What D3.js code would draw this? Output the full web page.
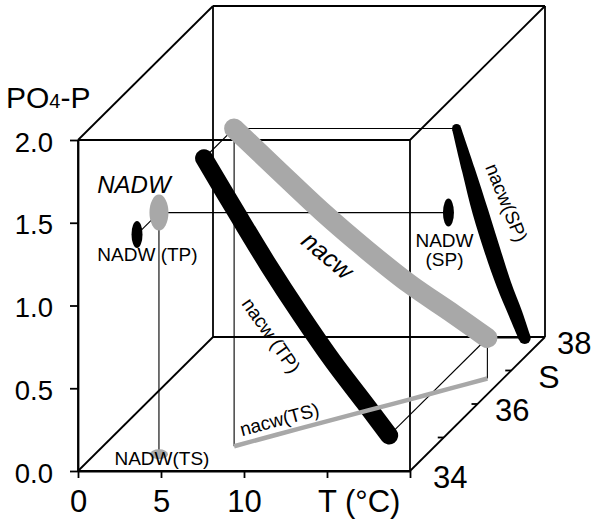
<!DOCTYPE html>
<html>
<head>
<meta charset="utf-8">
<script src="https://cdn.jsdelivr.net/npm/d3@7"></script>
<style>
  body { margin: 0; background: #fff; }
  svg { display: block; }
  text { font-family: "Liberation Sans", Arial, Helvetica, sans-serif; fill: #000; }
</style>
</head>
<body>
<svg id="chart" width="592" height="522"></svg>
<script>
// nacw mixing line in (temperature, salinity, phosphate) space
const nacwT = [7.9, 9.8, 11.8, 13.75, 15.65, 17.55, 19.05];
const nacwS = [34.74, 35.09, 35.45, 35.8, 36.14, 36.49, 36.76];
const nacwP = [1.92, 1.6, 1.27, 0.97, 0.695, 0.445, 0.245];

// NADW end member
const nadwT = [3.86];
const nadwS = [34.5];
const nadwP = [1.46];

// planes receiving the two-property projections
const planeTP_S = 33.85;   // T–P projection
const planeSP_T = 21.3;    // S–P projection
const planeTS_P = 0;       // T–S projection

// axes
const tTicks = [0, 5, 10, 15, 20];
const tLabels = ["0", "5", "10", "", ""];
const pTicks = [0, 0.5, 1, 1.5, 2];
const sTicks = [35, 36, 37];
const sLabels = [34, 36, 38];

const svg = d3.select("#chart");

// oblique projection of the (T, S, P) cube
const x = d3.scaleLinear().domain([0, 20]).range([78, 410]);
const y = d3.scaleLinear().domain([0, 2]).range([471, 140]);
const depth = d3.scaleLinear().domain([34, 38]).range([0, 1]);
const DX = 135, DY = -134;
const proj = (T, S, P) => [x(T) + DX * depth(S), y(P) + DY * depth(S)];

const GRAY = "#a8a8a8";
const boxG = svg.append("g").attr("fill", "none").attr("stroke", "#000").attr("stroke-width", 1.8);

// cube edges
const Tr = [0, 20], Sr = [34, 38], Pr = [0, 2];
const edges = [];
Sr.forEach(S => {
  edges.push([[0, S, 0], [20, S, 0]], [[0, S, 2], [20, S, 2]], [[0, S, 0], [0, S, 2]], [[20, S, 0], [20, S, 2]]);
});
Tr.forEach(T => Pr.forEach(P => edges.push([[T, 34, P], [T, 38, P]])));
boxG.selectAll("line.edge").data(edges).join("line").attr("class", "edge")
  .attr("x1", d => proj(...d[0])[0]).attr("y1", d => proj(...d[0])[1])
  .attr("x2", d => proj(...d[1])[0]).attr("y2", d => proj(...d[1])[1]);

// drop lines from 3-D points to their projections
const anchors = [
  [nacwT[0], nacwS[0], nacwP[0]],
  [nacwT[nacwT.length - 1], nacwS[nacwS.length - 1], nacwP[nacwP.length - 1]],
  [nadwT[0], nadwS[0], nadwP[0]]
];
const drops = [];
anchors.forEach(([T, S, P]) => {
  drops.push([[T, S, P], [T, planeTP_S, P]]);
  drops.push([[T, S, P], [planeSP_T, S, P]]);
  drops.push([[T, S, P], [T, S, planeTS_P]]);
});
svg.append("g").attr("stroke", "#000").attr("stroke-width", 1.1)
  .selectAll("line").data(drops).join("line")
  .attr("x1", d => proj(...d[0])[0]).attr("y1", d => proj(...d[0])[1])
  .attr("x2", d => proj(...d[1])[0]).attr("y2", d => proj(...d[1])[1]);

// axes
const yAxis = d3.axisLeft(y).tickValues(pTicks).tickFormat(d3.format(".1f"))
  .tickSize(8).tickSizeOuter(0).tickPadding(17);
const gy = svg.append("g").attr("transform", "translate(78,0)").call(yAxis);
gy.selectAll("text").attr("font-size", 27.5).attr("dy", "0.4em");

const xAxis = d3.axisBottom(x).tickValues(tTicks).tickFormat((d, i) => tLabels[i])
  .tickSize(7).tickSizeOuter(0).tickPadding(12);
const gx = svg.append("g").attr("transform", "translate(0,471)").call(xAxis);
gx.selectAll("text").attr("font-size", 31);

[gx, gy].forEach(g => {
  g.selectAll("path, line").attr("stroke", "#000").attr("stroke-width", 1.8);
  g.selectAll("text").attr("font-family", "Liberation Sans, Arial, sans-serif").attr("fill", "#000");
});

// salinity axis along the lower right edge
svg.append("g").attr("stroke", "#000").attr("stroke-width", 1.8)
  .selectAll("line").data(sTicks).join("line")
  .attr("x1", d => proj(20, d, 0)[0] - 6).attr("y1", d => proj(20, d, 0)[1])
  .attr("x2", d => proj(20, d, 0)[0]).attr("y2", d => proj(20, d, 0)[1]);
svg.append("g").selectAll("text").data(sLabels).join("text")
  .attr("x", d => proj(20, d, 0)[0] + 23 - 11 * depth(d))
  .attr("y", d => proj(20, d, 0)[1] + 17)
  .attr("font-size", 31).text(d => d);

const line = d3.line().curve(d3.curveCatmullRom.alpha(0.5));
const idx = d3.range(nacwT.length);

// T–P projection
svg.append("path")
  .attr("d", line(idx.map(i => proj(nacwT[i], planeTP_S, nacwP[i]))))
  .attr("fill", "none").attr("stroke", "#000").attr("stroke-width", 18).attr("stroke-linecap", "round");

// T–S projection
svg.append("path")
  .attr("d", line(idx.map(i => proj(nacwT[i], nacwS[i], planeTS_P))))
  .attr("fill", "none").attr("stroke", GRAY).attr("stroke-width", 4.5);

// nacw in 3-D
svg.append("path")
  .attr("d", line(idx.map(i => proj(nacwT[i], nacwS[i], nacwP[i]))))
  .attr("fill", "none").attr("stroke", GRAY).attr("stroke-width", 20).attr("stroke-linecap", "round");

// S–P projection, drawn as a ribbon that swells toward the middle
const spPts = idx.map(i => proj(planeSP_T, nacwS[i], nacwP[i]));
const spWidth = [9, 13, 16, 16, 15, 14, 12];
const left = [], right = [];
spPts.forEach((p, i) => {
  const a = spPts[Math.max(0, i - 1)], b = spPts[Math.min(spPts.length - 1, i + 1)];
  const dx = b[0] - a[0], dy = b[1] - a[1], len = Math.hypot(dx, dy);
  const nx = -dy / len, ny = dx / len, h = spWidth[i] / 2;
  left.push([p[0] + nx * h, p[1] + ny * h]);
  right.push([p[0] - nx * h, p[1] - ny * h]);
});
const spG = svg.append("g").attr("fill", "#000");
spG.append("path")
  .attr("d", line(left) + "L" + line(right.slice().reverse()).slice(1) + "Z");
spG.selectAll("circle").data([0, spPts.length - 1]).join("circle")
  .attr("cx", i => spPts[i][0]).attr("cy", i => spPts[i][1]).attr("r", i => spWidth[i] / 2);

// NADW marks
const n3 = proj(nadwT[0], nadwS[0], nadwP[0]);
const nTP = proj(nadwT[0], planeTP_S, nadwP[0]);
const nSP = proj(planeSP_T, nadwS[0], nadwP[0]);
const nTS = proj(nadwT[0], nadwS[0], planeTS_P);
const marks = [
  { p: nTP, rx: 5.5, ry: 13.5, c: "#000" },
  { p: nSP, rx: 5.5, ry: 14, c: "#000" },
  { p: nTS, rx: 9, ry: 5, c: GRAY },
  { p: n3, rx: 9.5, ry: 18, c: GRAY }
];
svg.append("g").selectAll("ellipse").data(marks).join("ellipse")
  .attr("cx", d => d.p[0]).attr("cy", d => d.p[1])
  .attr("rx", d => d.rx).attr("ry", d => d.ry).attr("fill", d => d.c);

// labels
const lab = svg.append("g");
const addText = (txt, px, py, size, opts = {}) => {
  const t = lab.append("text").attr("x", px).attr("y", py).attr("font-size", size)
    .attr("text-anchor", opts.anchor || "middle").text(txt);
  if (opts.italic) t.attr("font-style", "italic");
  if (opts.rot !== undefined) {
    t.attr("dominant-baseline", "central").attr("transform", `rotate(${opts.rot},${px},${py})`);
  }
  return t;
};

// axis titles
const pTitle = lab.append("text").attr("x", 6).attr("y", 108).attr("font-size", 30);
pTitle.append("tspan").text("PO");
pTitle.append("tspan").attr("font-size", 20).text("4");
pTitle.append("tspan").text("-P");
addText("T (°C)", x(15) - 9, 512, 31, { anchor: "start" });
addText("S", proj(20, 37, 0)[0] + 27, proj(20, 37, 0)[1] + 17, 32, { anchor: "start" });

// NADW labels
addText("NADW", n3[0] - 25, n3[1] - 20, 24, { italic: true });
addText("NADW (TP)", n3[0] - 11.5, n3[1] + 48, 19);
addText("NADW", nSP[0] - 4, nSP[1] + 34, 19);
addText("(SP)", nSP[0] - 4, nSP[1] + 53, 19);
addText("NADW(TS)", nTS[0] + 3, nTS[1] + 11, 19);

// nacw labels
const g2 = proj(nacwT[2], nacwS[2], nacwP[2]);
addText("nacw", g2[0] + 5, g2[1] + 43, 25, { italic: true, rot: 40 });
const tp2 = proj(nacwT[3], planeTP_S, nacwP[3]);
addText("nacw (TP)", tp2[0] - 30, tp2[1] + 20, 19, { rot: 55 });
const sp1 = proj(planeSP_T, nacwS[1], nacwP[1]);
addText("nacw(SP)", sp1[0] + 38, sp1[1] + 33, 19, { rot: 68 });
const ts1 = proj(nacwT[1], nacwS[1], planeTS_P);
addText("nacw(TS)", ts1[0] + 2, ts1[1] - 15, 19, { rot: -15 });
</script>
</body>
</html>
